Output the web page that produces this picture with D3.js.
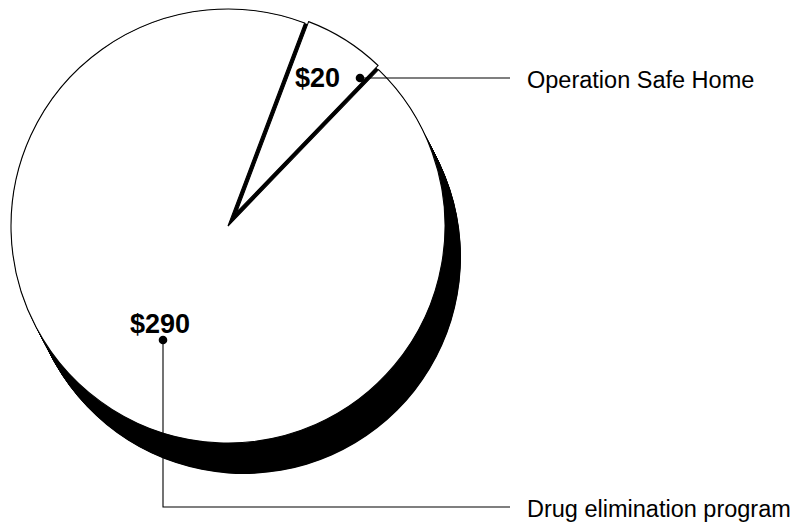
<!DOCTYPE html>
<html>
<head>
<meta charset="utf-8">
<script src="https://cdn.jsdelivr.net/npm/d3@7"></script>
<style>
  html, body { margin: 0; padding: 0; background: #fff; }
  svg { display: block; }
</style>
</head>
<body>
<svg id="chart" width="801" height="522"></svg>
<script>
// Program funding (dollars)
const programs = ["Operation Safe Home", "Drug elimination program"];
const amounts = [20, 290];
const amountLabels = ["$20", "$290"];

const svg = d3.select("#chart");
const font = "'Liberation Sans', Arial, Helvetica, sans-serif";

// Pie geometry
const cx = 228, cy = 226, R = 217;
const midSmall = 32.3 * Math.PI / 180;   // small slice centred up-right
const explode = 16;                       // how far the small slice is pulled out
const depth = [16, 31];                   // direction/length of the solid side

const total = d3.sum(amounts);
const smallSpan = 2 * Math.PI * amounts[0] / total;
const start = midSmall - smallSpan / 2;
const pie = d3.pie().sort(null).startAngle(start).endAngle(start + 2 * Math.PI);
const arcs = pie(amounts);
const arcBig = d3.arc().innerRadius(0).outerRadius(R);
const arcSmall = d3.arc().innerRadius(0).outerRadius(R + 3 - explode);

const g = svg.append("g").attr("transform", `translate(${cx},${cy})`);

// Solid black side of the large slice, swept along the depth vector
const steps = 60;
g.append("g").selectAll("path")
  .data(d3.range(steps + 1))
  .join("path")
  .attr("d", arcBig(arcs[1]))
  .attr("transform", i => `translate(${depth[0] * i / steps},${depth[1] * i / steps})`)
  .attr("fill", "#000");

// Socket left behind by the pulled-out slice
g.append("path")
  .attr("d", arcBig(arcs[0]))
  .attr("fill", "#000");

// Large slice
g.append("path")
  .attr("d", arcBig(arcs[1]))
  .attr("fill", "#fff")
  .attr("stroke", "#000")
  .attr("stroke-width", 1.1);

// Small slice, pulled out along its bisector
const mid = (arcs[0].startAngle + arcs[0].endAngle) / 2;
g.append("path")
  .attr("d", arcSmall(arcs[0]))
  .attr("transform", `translate(${explode * Math.sin(mid)},${-explode * Math.cos(mid)})`)
  .attr("fill", "#fff")
  .attr("stroke", "#000")
  .attr("stroke-width", 1.1);

// Callouts: dot on the slice, elbow leader to the program name
const leaderEndX = 510, nameX = 527;
const callouts = [
  { dot: [cx + 132, cy - 148], rowY: 78 },
  { dot: [cx - 65, cy + 114], rowY: 507 }
];

const ann = svg.append("g");
callouts.forEach((c, i) => {
  const [x, y] = c.dot;
  const pts = (y === c.rowY)
    ? [[x, y], [leaderEndX, y]]
    : [[x, y], [x, c.rowY], [leaderEndX, c.rowY]];
  ann.append("path")
    .attr("d", d3.line()(pts))
    .attr("fill", "none")
    .attr("stroke", "#000")
    .attr("stroke-width", 1.1);
  ann.append("circle")
    .attr("cx", x).attr("cy", y).attr("r", 4.3)
    .attr("fill", "#000");
  ann.append("text")
    .attr("x", nameX)
    .attr("y", c.rowY + 9.5)
    .attr("font-family", font)
    .attr("font-size", 23.5)
    .attr("fill", "#000")
    .text(programs[i]);
});

// Amount labels
ann.append("text")
  .attr("x", callouts[0].dot[0] - 20)
  .attr("y", callouts[0].dot[1] + 9)
  .attr("text-anchor", "end")
  .attr("font-family", font)
  .attr("font-weight", "bold")
  .attr("font-size", 27)
  .attr("fill", "#000")
  .text(amountLabels[0]);

ann.append("text")
  .attr("x", callouts[1].dot[0] - 3)
  .attr("y", callouts[1].dot[1] - 7)
  .attr("text-anchor", "middle")
  .attr("font-family", font)
  .attr("font-weight", "bold")
  .attr("font-size", 27)
  .attr("fill", "#000")
  .text(amountLabels[1]);
</script>
</body>
</html>
